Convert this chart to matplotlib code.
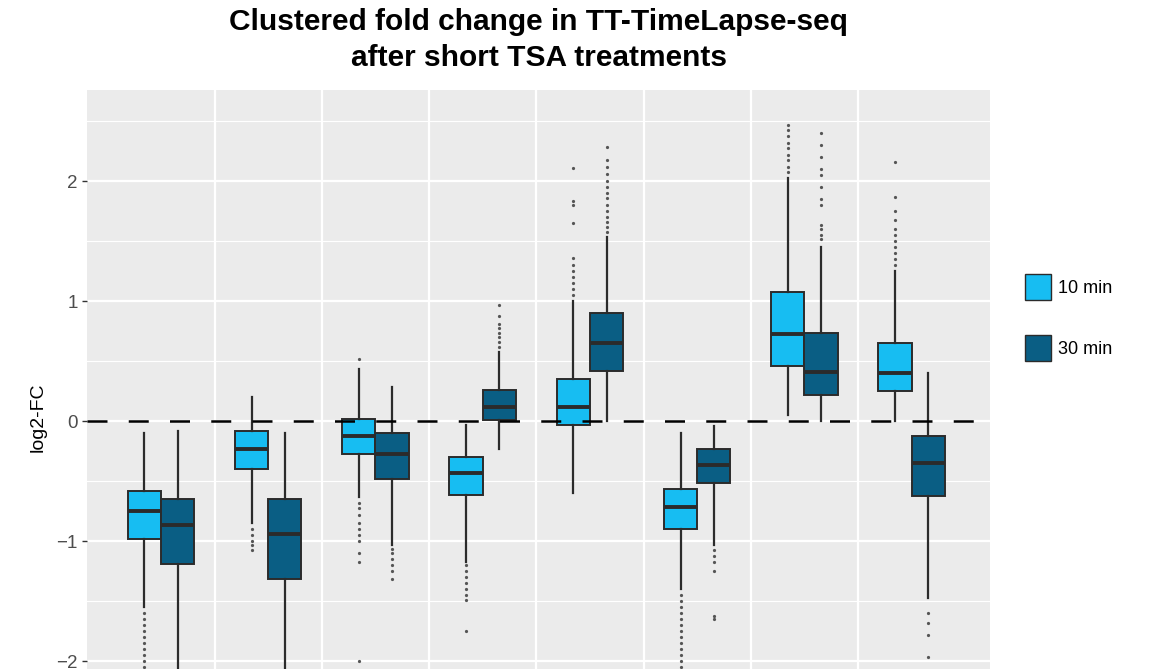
import matplotlib
matplotlib.use('Agg')
import matplotlib.pyplot as plt
from matplotlib.patches import Patch
import numpy as np

plt.rcParams['font.family'] = ['Liberation Sans', 'DejaVu Sans']

# box statistics per cluster (log2 fold change), 10 min and 30 min TSA
clusters = [1, 2, 3, 4, 5, 6, 7, 8]

q1_10 = [-0.98, -0.40, -0.27, -0.61, -0.03, -0.90, 0.46, 0.25]
med_10 = [-0.75, -0.23, -0.12, -0.43, 0.12, -0.71, 0.73, 0.40]
q3_10 = [-0.58, -0.08, 0.02, -0.30, 0.35, -0.56, 1.08, 0.65]
lo_10 = [-1.55, -0.85, -0.63, -1.17, -0.60, -1.40, 0.05, 0.00]
hi_10 = [-0.10, 0.20, 0.44, -0.03, 1.00, -0.10, 2.03, 1.25]

q1_30 = [-1.19, -1.31, -0.48, 0.01, 0.42, -0.51, 0.22, -0.62]
med_30 = [-0.86, -0.94, -0.27, 0.12, 0.65, -0.36, 0.41, -0.35]
q3_30 = [-0.65, -0.65, -0.10, 0.26, 0.90, -0.23, 0.74, -0.12]
lo_30 = [-2.30, -2.30, -1.03, -0.23, 0.00, -1.03, 0.00, -1.47]
hi_30 = [-0.08, -0.10, 0.29, 0.58, 1.54, -0.04, 1.45, 0.40]

out_10 = [
    [-1.60, -1.65, -1.70, -1.75, -1.80, -1.85, -1.90, -1.95, -2.00, -2.05],
    [-0.90, -0.95, -1.00, -1.03, -1.07],
    [0.52, -0.68, -0.72, -0.78, -0.85, -0.90, -0.95, -1.00, -1.10, -1.17, -2.00],
    [-1.20, -1.25, -1.30, -1.35, -1.40, -1.45, -1.49, -1.75],
    [1.05, 1.10, 1.15, 1.20, 1.25, 1.30, 1.36, 1.65, 1.80, 1.84, 2.11],
    [-1.45, -1.50, -1.55, -1.60, -1.65, -1.70, -1.75, -1.80, -1.85, -1.90, -1.95, -2.00, -2.05],
    [2.08, 2.12, 2.18, 2.22, 2.28, 2.32, 2.38, 2.43, 2.47],
    [1.30, 1.35, 1.40, 1.45, 1.50, 1.55, 1.60, 1.68, 1.75, 1.87, 2.16],
]
out_30 = [
    [],
    [],
    [-1.06, -1.10, -1.15, -1.20, -1.25, -1.31],
    [0.62, 0.66, 0.70, 0.74, 0.78, 0.81, 0.88, 0.97],
    [1.58, 1.62, 1.66, 1.70, 1.75, 1.80, 1.86, 1.90, 1.95, 2.00, 2.06, 2.12, 2.18, 2.29],
    [-1.07, -1.12, -1.17, -1.25, -1.62, -1.65],
    [1.52, 1.55, 1.60, 1.64, 1.80, 1.85, 1.95, 2.05, 2.10, 2.20, 2.30, 2.40],
    [-1.60, -1.68, -1.78, -1.96],
]

groups = ['10 min', '30 min']
colors = ['#17BDF2', '#0A5E84']

fig = plt.figure(figsize=(11.58, 6.69), dpi=100)
ax = fig.add_axes([0.0751, 0.0, 0.7798, 0.8655])
ax.set_facecolor('#EBEBEB')

x = np.arange(len(clusters))
offset = 0.155
width = 0.31

def make_stats(q1, med, q3, lo, hi, out):
    return [dict(q1=a, med=b, q3=c, whislo=d, whishi=e, fliers=f)
            for a, b, c, d, e, f in zip(q1, med, q3, lo, hi, out)]

sets = [make_stats(q1_10, med_10, q3_10, lo_10, hi_10, out_10),
        make_stats(q1_30, med_30, q3_30, lo_30, hi_30, out_30)]

for k, stats in enumerate(sets):
    pos = x + (2 * k - 1) * offset
    ax.bxp(stats, positions=pos, widths=width, patch_artist=True,
           showcaps=False, manage_ticks=False,
           boxprops=dict(facecolor=colors[k], edgecolor='#2B2B2B', linewidth=1.4),
           medianprops=dict(color='#2B2B2B', linewidth=2.8),
           whiskerprops=dict(color='#2B2B2B', linewidth=1.6),
           flierprops=dict(marker='o', markersize=1.3, markerfacecolor='#555555',
                           markeredgecolor='#555555', linestyle='none'),
           zorder=3)

ax.axhline(0, color='black', linewidth=1.8, linestyle=(0, (8, 8.5)), zorder=4)

ax.set_xlim(-0.69, 7.73)
ax.set_ylim(-2.0625, 2.7625)

# ggplot-like grid
ax.set_yticks([-2, -1, 0, 1, 2])
ax.set_yticklabels(['\u22122', '\u22121', '0', '1', '2'])
ax.set_yticks([-1.5, -0.5, 0.5, 1.5, 2.5], minor=True)
ax.set_xticks([])
ax.set_xticks(x[:-1] + 0.5, minor=True)
ax.grid(True, which='major', axis='y', color='white', linewidth=1.6, zorder=0)
ax.grid(True, which='minor', axis='y', color='white', linewidth=0.8, zorder=0)
ax.grid(True, which='minor', axis='x', color='white', linewidth=1.6, zorder=0)
ax.set_axisbelow(True)
ax.tick_params(axis='y', which='major', length=3.8, width=1.0, color='#333333',
               labelsize=13.5, labelcolor='#4D4D4D', pad=3)
ax.tick_params(which='minor', length=0)
ax.tick_params(axis='x', which='both', length=0, labelbottom=False)
for s in ax.spines.values():
    s.set_visible(False)

ax.set_ylabel('log2-FC', fontsize=14, color='black')
ax.yaxis.set_label_coords(-0.045, 0.435)

fig.text(0.4651, 0.9671, 'Clustered fold change in TT-TimeLapse-seq',
         ha='center', va='center', fontsize=21.5, fontweight='bold')
fig.text(0.4651, 0.9133, 'after short TSA treatments',
         ha='center', va='center', fontsize=21.5, fontweight='bold')

handles = [Patch(facecolor=c, edgecolor='#2B2B2B', linewidth=1.0, label=g)
           for c, g in zip(colors, groups)]
fig.legend(handles=handles, loc='center left', bbox_to_anchor=(0.885, 0.5254),
           frameon=False, fontsize=13, handlelength=1.44, handleheight=1.85,
           handletextpad=0.4, labelspacing=1.9, borderpad=0, borderaxespad=0)

fig.savefig('out.png', dpi=100)
